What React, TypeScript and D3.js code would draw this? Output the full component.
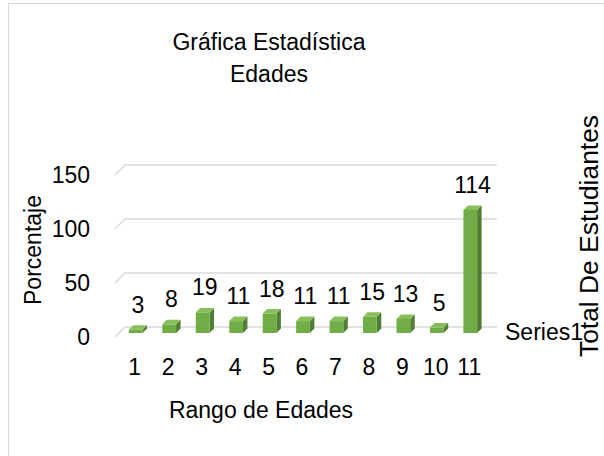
import * as d3 from 'd3';

const categories = ['1', '2', '3', '4', '5', '6', '7', '8', '9', '10', '11'];
const values = [3, 8, 19, 11, 18, 11, 11, 15, 13, 5, 114];
const yTicks = [0, 50, 100, 150];
const seriesName = 'Series1';

const W = 604;
const H = 456;
const FONT = '"Liberation Sans", Arial, sans-serif';
// oblique depth of the 3D floor
const DX = 10;
const DY = 10;
// bar sits between these fractions of the depth
const D1 = 0.4;
const D2 = 0.85;

export default function App() {
  const x = d3.scaleBand<string>()
    .domain(categories)
    .range([115, 483])
    .paddingInner(0.59)
    .paddingOuter(0.295);

  const y = d3.scaleLinear().domain([0, 150]).range([337, 175]);

  const band = d3.scaleBand<string>().domain(categories).range([115, 483]);

  const bars = categories.map((c, i) => {
    const v = values[i];
    const x0 = x(c)! + D1 * DX;
    const x1 = x0 + x.bandwidth();
    const yt = y(v) - D1 * DY;
    const yb = y(0) - D1 * DY;
    const ox = (D2 - D1) * DX;
    const oy = (D2 - D1) * DY;
    return { c, v, x0, x1, yt, yb, ox, oy };
  });

  return (
    <svg width={W} height={H} style={{ position: 'absolute', left: 0, top: 0, background: '#fff' }}
      fontFamily={FONT}>
      <rect x={8.5} y={3.5} width={700} height={600} fill="#fff" stroke="#d9d9d9" strokeWidth={1} />

      <text x={269} y={50} fontSize={23} textAnchor="middle">Gráfica Estadística</text>
      <text x={269} y={82} fontSize={23} textAnchor="middle">Edades</text>

      {/* gridlines on side and back walls */}
      {yTicks.map(t => (
        <g key={t}>
          <polyline
            points={`115,${y(t)} ${115 + DX},${y(t) - DY} 497,${y(t) - DY}`}
            fill="none" stroke="#d9d9d9" strokeWidth={1.5} />
          <text x={90} y={y(t)} dy="0.36em" fontSize={23} textAnchor="end">{t}</text>
        </g>
      ))}

      {bars.map(b => (
        <g key={b.c}>
          <polygon
            points={`${b.x1},${b.yb} ${b.x1 + b.ox},${b.yb - b.oy} ${b.x1 + b.ox},${b.yt - b.oy} ${b.x1},${b.yt}`}
            fill="#507e32" />
          <polygon
            points={`${b.x0},${b.yt} ${b.x0 + b.ox},${b.yt - b.oy} ${b.x1 + b.ox},${b.yt - b.oy} ${b.x1},${b.yt}`}
            fill="#86bf5c" />
          <rect x={b.x0} y={b.yt} width={b.x1 - b.x0} height={b.yb - b.yt} fill="#70ad47" />
          <text x={(b.x0 + b.x1 + b.ox) / 2} y={b.yt - b.oy - 12.5} fontSize={23} textAnchor="middle">
            {b.v}
          </text>
        </g>
      ))}

      {categories.map(c => (
        <text key={c} x={band(c)! + band.bandwidth() / 2 + 3} y={375} fontSize={23} textAnchor="middle">
          {c}
        </text>
      ))}

      <text x={505} y={340} fontSize={23}>{seriesName}</text>

      <text transform="translate(41,250) rotate(-90)" fontSize={23} textAnchor="middle">Porcentaje</text>
      <text transform="translate(598,236) rotate(-90)" fontSize={25} textAnchor="middle"
        textLength={242} lengthAdjust="spacingAndGlyphs">Total De Estudiantes</text>

      <text x={261} y={418} fontSize={23} textAnchor="middle">Rango de Edades</text>
    </svg>
  );
}
